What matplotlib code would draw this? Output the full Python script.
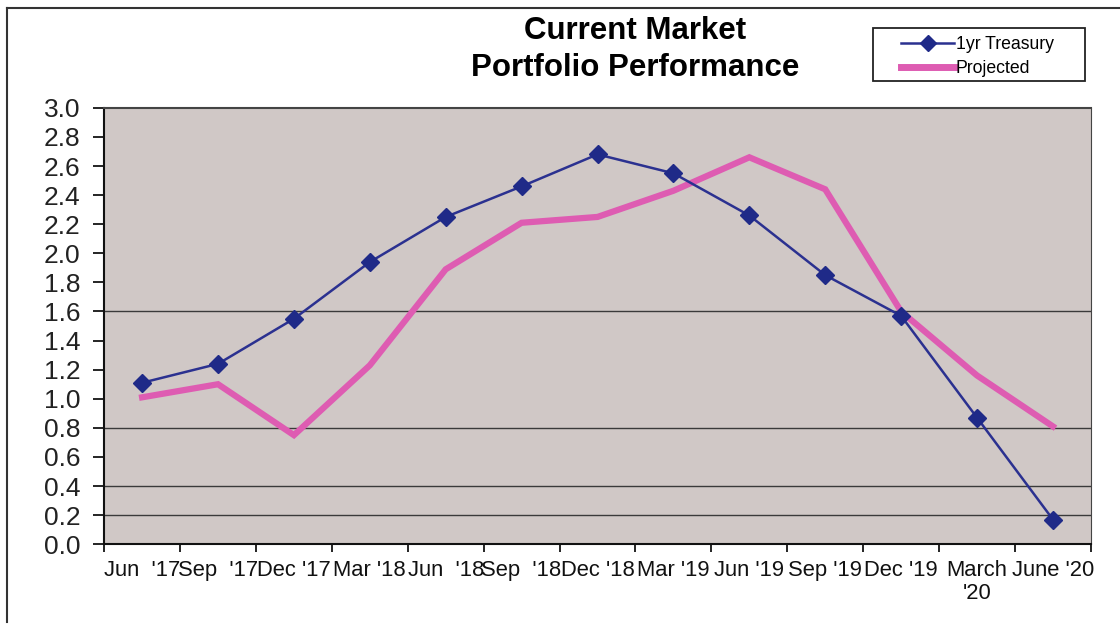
import matplotlib
matplotlib.use("Agg")
from matplotlib import pyplot as plt
from matplotlib.lines import Line2D
from matplotlib.patches import Rectangle

plt.rcParams['font.family'] = ['Liberation Sans', 'DejaVu Sans']

# data
months = ["Jun  '17", "Sep  '17", "Dec '17", "Mar '18", "Jun  '18", "Sep  '18", "Dec '18",
          "Mar '19", "Jun '19", "Sep '19", "Dec '19", "March\n'20", "June '20"]
treasury = [1.11, 1.24, 1.55, 1.94, 2.25, 2.46, 2.68, 2.55, 2.26, 1.85, 1.57, 0.87, 0.17]
projected = [1.01, 1.10, 0.75, 1.23, 1.89, 2.21, 2.25, 2.43, 2.66, 2.44, 1.60, 1.16, 0.81]
yticks = [0.0, 0.2, 0.4, 0.6, 0.8, 1.0, 1.2, 1.4, 1.6, 1.8, 2.0, 2.2, 2.4, 2.6, 2.8, 3.0]
# only these gridlines survived in the scan
gridlines = [0.2, 0.4, 0.8, 1.6]

blue = "#2B3190"
pink = "#DE5CB2"

fig = plt.figure(figsize=(11.2, 6.27), dpi=100)
ax = fig.add_axes([0.093, 0.132, 0.881, 0.696])
ax.set_facecolor("#D0C8C6")

x = list(range(len(months)))
for g in gridlines:
    ax.axhline(g, color="#3a3a3a", lw=1.0, zorder=1)

ax.plot(x, projected, color=pink, lw=4.5, solid_joinstyle="miter", zorder=2)
ax.plot(x, treasury, color=blue, lw=1.8, marker="D", markersize=9.5,
        markerfacecolor="#1F2A88", markeredgecolor="#1F2A88", zorder=3)

ax.set_xlim(-0.5, len(months) - 0.5)
ax.set_ylim(0, 3.0)
ax.set_yticks(yticks)
ax.set_yticklabels(["%.1f" % v for v in yticks], fontsize=19, color="#222222")
ax.set_xticks(x)
ax.set_xticklabels(months, fontsize=15.8, color="#111111", linespacing=1.15)
ax.set_xticks([i - 0.5 for i in range(len(months) + 1)], minor=True)
ax.tick_params(axis="x", which="major", length=0, pad=11)
ax.tick_params(axis="x", which="minor", length=6, width=1.2, direction="out")
ax.tick_params(axis="y", length=8, width=1.2, pad=9)

for s in ["left", "bottom"]:
    ax.spines[s].set_color("#111111")
    ax.spines[s].set_linewidth(1.5)
ax.spines["top"].set_color("#444444")
ax.spines["top"].set_linewidth(1.5)
ax.spines["right"].set_color("#444444")
ax.spines["right"].set_linestyle((0, (2, 1)))

fig.text(0.567, 0.950, "Current Market", ha="center", va="center",
         fontsize=22.5, fontweight="bold")
fig.text(0.567, 0.891, "Portfolio Performance", ha="center", va="center",
         fontsize=22.5, fontweight="bold")

# legend box drawn by hand, the legend itself has no frame
fig.add_artist(Rectangle((873 / 1120, 1 - 81 / 627), 212 / 1120, 53 / 627,
                         transform=fig.transFigure, fill=False,
                         edgecolor="#222222", lw=1.3))
handles = [Line2D([], [], color=blue, lw=1.8, marker="D", markersize=8,
                  markerfacecolor="#1F2A88", markeredgecolor="#1F2A88"),
           Line2D([], [], color=pink, lw=5)]
leg = fig.legend(handles, ["1yr Treasury", "Projected"], loc="upper left",
                 bbox_to_anchor=(0.792, 0.965), fontsize=12.7, frameon=False,
                 handlelength=3.0, handletextpad=0.1, borderpad=0.3,
                 labelspacing=0.4)

# outer chart border (left and top visible in the scan)
fig.add_artist(Line2D([0.0065, 0.0065], [0.008, 0.988], transform=fig.transFigure,
                      color="#333333", lw=1.5))
fig.add_artist(Line2D([0.0065, 1.0], [0.988, 0.988], transform=fig.transFigure,
                      color="#333333", lw=1.5))

plt.savefig("out.png", dpi=100)
